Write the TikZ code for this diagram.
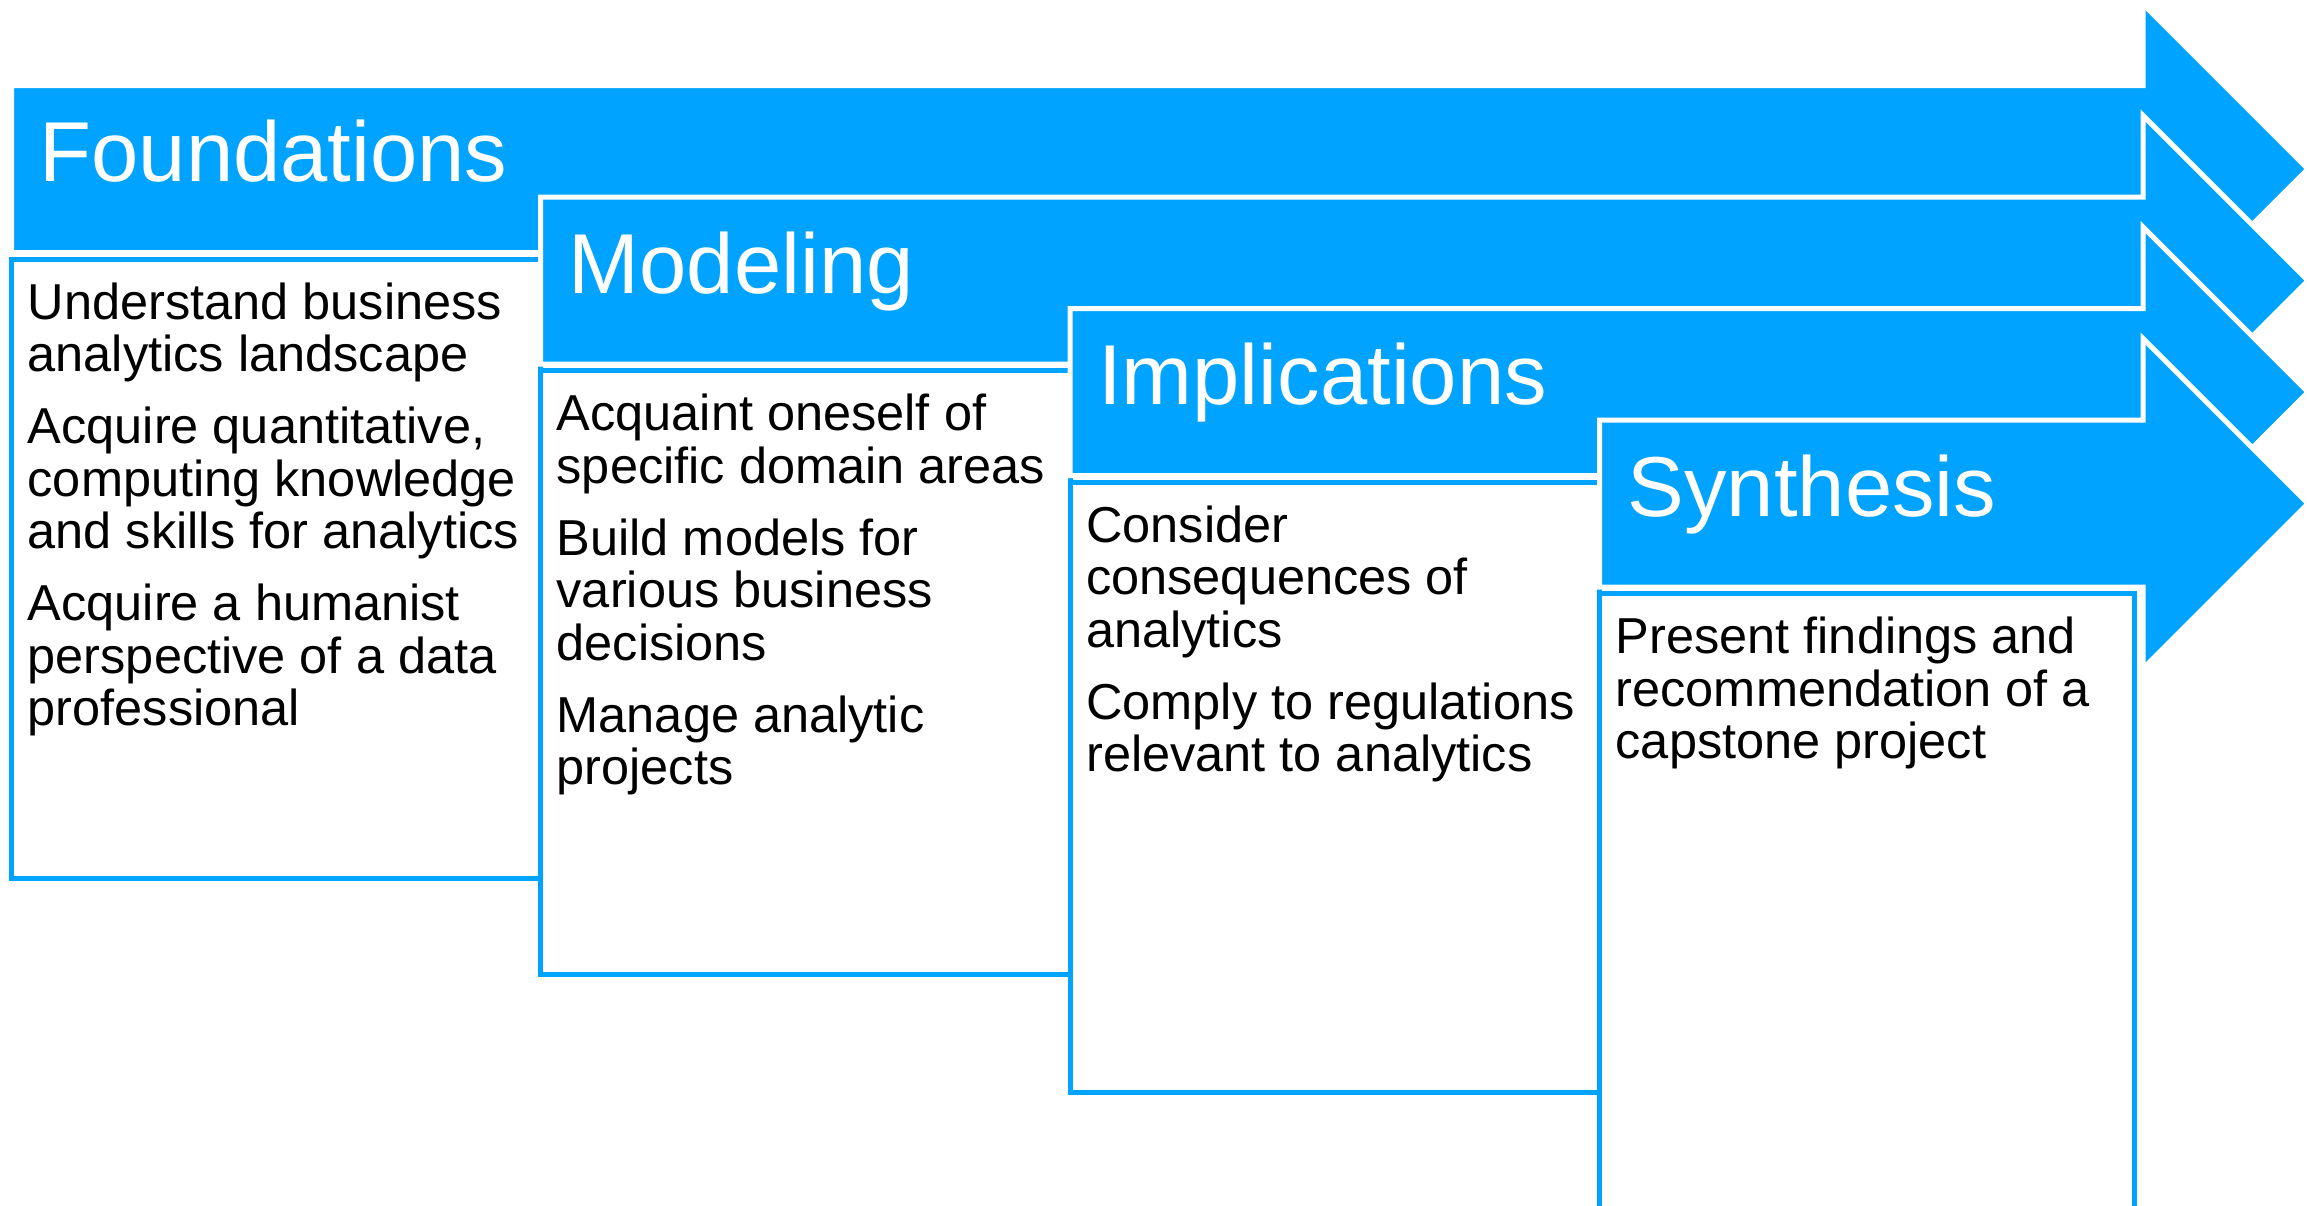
\documentclass[tikz,border=0pt]{standalone}
\usepackage{fontspec}
\setmainfont{Liberation Sans}
\definecolor{stageblue}{RGB}{0,163,255}
\tikzset{
  stagearrow/.style={fill=stageblue, draw=white, line width=5pt},
  stagebox/.style={fill=white, draw=stageblue, line width=5pt},
  stagetitle/.style={anchor=base west, inner sep=0pt, text=white, font=\fontsize{85}{90}\selectfont},
  stagebody/.style={anchor=north west, inner sep=0pt, align=left, font=\fontsize{50.5}{52.5}\selectfont},
}
\newcommand\firstline{\rule{0pt}{50pt}}
\newcommand\drawstage[2]{%
  \draw[stagearrow] (#1,#2-83.5) -- (2143,#2-83.5) -- (2143,#2-165) -- (2308,#2) -- (2143,#2+165) -- (2143,#2+83.5) -- (#1,#2+83.5) -- cycle;}
\begin{document}
\begin{tikzpicture}[x=1pt,y=-1pt]
\useasboundingbox (0,0) rectangle (2307,1205);
\clip (0,0) rectangle (2307,1205);
\drawstage{11.5}{169}
\draw[stagebox] (11.5,259) rectangle (540.5,878.5);
\drawstage{540.5}{280.5}
\draw[stagebox] (540.5,370.5) rectangle (1070,974);
\drawstage{1070}{392}
\draw[stagebox] (1070,482) rectangle (1599.5,1092);
\drawstage{1599.5}{503.5}
\draw[stagebox] (1599.5,593.5) rectangle (2134.5,1260);
\node[stagetitle] (t1) at (39.5,181.5) {Foundations};
\node[stagetitle] (t2) at (568.5,293) {Modeling};
\node[stagetitle] (t3) at (1098,404.5) {Implications};
\node[stagetitle] (t4) at (1627.5,516) {Synthesis};
\node[stagebody] (b1) at (27.5,269) {\firstline Understand business\\analytics landscape\\[19.5pt]Acquire quantitative,\\computing knowledge\\and skills for analytics\\[19.5pt]Acquire a humanist\\perspective of a data\\professional};
\node[stagebody] (b2) at (556.5,380.5) {\firstline Acquaint oneself of\\specific domain areas\\[19.5pt]Build models for\\various business\\decisions\\[19.5pt]Manage analytic\\projects};
\node[stagebody] (b3) at (1086,492) {\firstline Consider\\consequences of\\analytics\\[19.5pt]Comply to regulations\\relevant to analytics};
\node[stagebody] (b4) at (1615.5,603.5) {\firstline Present findings and\\recommendation of a\\capstone project};
\end{tikzpicture}
\end{document}
